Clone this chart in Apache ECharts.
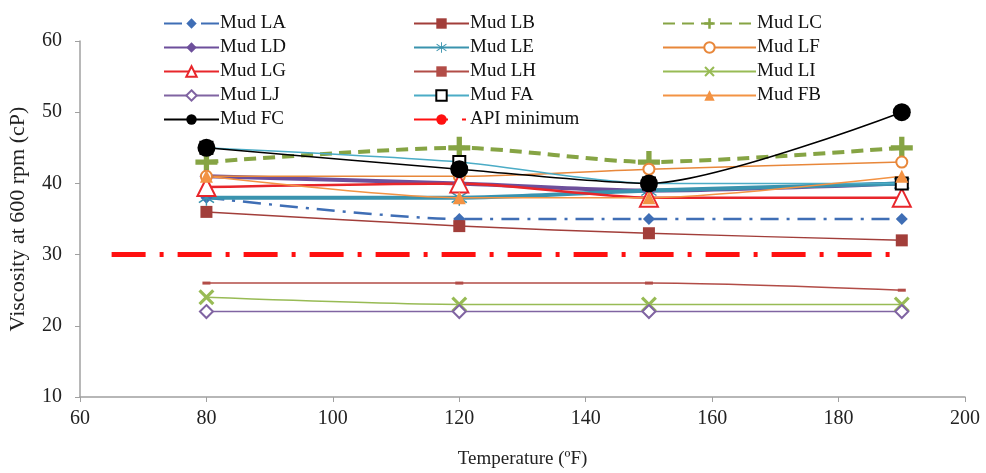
<!DOCTYPE html>
<html>
<head>
<meta charset="utf-8">
<script src="https://cdn.jsdelivr.net/npm/echarts@6/dist/echarts.min.js"></script>
<style>
  html, body { margin: 0; padding: 0; background: #fff; }
  #chart { width: 986px; height: 473px; }
</style>
</head>
<body>
<div id="chart"></div>
<script>
// temperatures (F) where the muds were measured
const temps = [80, 120, 150, 190]

const mudLA = [38, 35, 35, 35]
const mudLB = [36, 34, 33, 32]
const mudLC = [43, 45, 43, 45]
const mudLD = [41, 40, 39, 40]
const mudLE = [38, 38, 39, 40]
const mudLF = [41, 41, 42, 43]
const mudLG = [39.5, 40, 38, 38]
const mudLH = [26, 26, 26, 25]
const mudLI = [24, 23, 23, 23]
const mudLJ = [22, 22, 22, 22]
const mudFA = [45, 43, 40, 40]
const mudFB = [41, 38, 38, 41]
const mudFC = [45, 42, 40, 50]

// API minimum line
const apiX = [65, 190]
const apiY = [30, 30]

const xTicks = [60, 80, 100, 120, 140, 160, 180, 200]
const yTicks = [10, 20, 30, 40, 50, 60]

const font = 'Liberation Serif'

const plusPath = 'path://M3.8,0h2.4v3.8h3.8v2.4h-3.8v3.8h-2.4v-3.8h-3.8v-2.4h3.8z'
const crossPath = 'path://M0,1.4L1.4,0L5,3.6L8.6,0L10,1.4L6.4,5L10,8.6L8.6,10L5,6.4L1.4,10L0,8.6L3.6,5Z'
const starPath = 'path://M4.6,0h0.8v10h-0.8z M0.5,2.2L1,1.5L9.5,7.8L9,8.5Z M9,1.5L9.5,2.2L1,8.5L0.5,7.8Z'

function pairs(ys, xs) {
  xs = xs || temps
  return ys.map((y, i) => [xs[i], y])
}

function mud(name, data, color, opts) {
  opts = opts || {}
  return {
    name: name,
    type: 'line',
    data: pairs(data),
    smooth: 0.25,
    symbol: opts.symbol || 'circle',
    symbolSize: opts.size || 10,
    showAllSymbol: true,
    lineStyle: {
      color: color,
      width: opts.width || 1.5,
      type: opts.type || 'solid'
    },
    itemStyle: {
      color: opts.markColor || color,
      borderWidth: opts.border || 1.5
    },
    emphasis: { disabled: true }
  }
}

const series = [
  mud('Mud LA', mudLA, '#3f6eb5', { symbol: 'diamond', size: 12, width: 2.5, type: [18, 8, 3, 8] }),
  mud('Mud LB', mudLB, '#a23e3a', { symbol: 'rect', size: 12 }),
  mud('Mud LC', mudLC, '#86a444', { symbol: plusPath, size: 22, width: 4, type: [12, 7] }),
  mud('Mud LD', mudLD, '#6d4f9b', { symbol: 'diamond', size: 14, width: 4 }),
  mud('Mud LE', mudLE, '#3a93ae', { symbol: starPath, size: 16, width: 4 }),
  mud('Mud LF', mudLF, '#e8873a', { symbol: 'emptyCircle', size: 11 }),
  mud('Mud LG', mudLG, '#e8262b', { symbol: 'emptyTriangle', size: 18, border: 2, width: 2.5 }),
  mud('Mud LH', mudLH, '#b24c47', { symbol: 'rect', size: [8, 3] }),
  mud('Mud LI', mudLI, '#98bb55', { symbol: crossPath, size: 16 }),
  mud('Mud LJ', mudLJ, '#8064a2', { symbol: 'emptyDiamond', size: 13, border: 3 }),
  mud('Mud FA', mudFA, '#4bacc6', { symbol: 'emptyRect', size: 12, markColor: '#000', border: 3 }),
  mud('Mud FB', mudFB, '#f39344', { symbol: 'triangle', size: 13 }),
  mud('Mud FC', mudFC, '#000000', { symbol: 'circle', size: 18 }),
  {
    name: 'API minimum',
    type: 'line',
    data: pairs(apiY, apiX),
    symbol: 'none',
    lineStyle: { color: '#ff1010', width: 5, type: [34, 14, 4, 14] },
    itemStyle: { color: '#ff1010' },
    emphasis: { disabled: true },
    z: 1
  }
]

function legendCol(left, width, names) {
  return {
    orient: 'vertical',
    left: left,
    top: 9,
    itemGap: 5,
    itemWidth: width,
    itemHeight: 13,
    selectedMode: false,
    textStyle: { fontFamily: font, fontSize: 19, color: '#111', padding: [0, 0, 0, -4] },
    data: names
  }
}

const chart = echarts.init(document.getElementById('chart'))
chart.setOption({
  animation: false,
  backgroundColor: '#fff',
  grid: { left: 80, right: 21, top: 41, bottom: 76, containLabel: false, outerBoundsMode: 'none' },
  legend: [
    legendCol(158, 55, ['Mud LA', 'Mud LD', 'Mud LG', 'Mud LJ', 'Mud FC']),
    legendCol(408, 55, ['Mud LB', 'Mud LE', 'Mud LH', 'Mud FA', 'API minimum']),
    legendCol(657, 93, ['Mud LC', 'Mud LF', 'Mud LI', 'Mud FB'])
  ],
  xAxis: {
    type: 'value',
    min: xTicks[0],
    max: xTicks[xTicks.length - 1],
    interval: 20,
    name: 'Temperature (ºF)',
    nameLocation: 'middle',
    nameGap: 53,
    nameTextStyle: { fontFamily: font, fontSize: 19, color: '#222' },
    axisLine: { lineStyle: { color: '#a0a0a0', width: 1.5 } },
    axisTick: { show: true, length: 5, lineStyle: { color: '#a0a0a0' } },
    axisLabel: { fontFamily: font, fontSize: 20, color: '#222', margin: 12 },
    splitLine: { show: false }
  },
  yAxis: {
    type: 'value',
    min: yTicks[0],
    max: yTicks[yTicks.length - 1],
    interval: 10,
    name: 'Viscosity at 600 rpm (cP)',
    nameLocation: 'middle',
    nameGap: 51,
    nameTextStyle: { fontFamily: font, fontSize: 22, color: '#222' },
    axisLine: { show: true, lineStyle: { color: '#a0a0a0', width: 1.5 } },
    axisTick: { show: true, length: 5, lineStyle: { color: '#a0a0a0' } },
    axisLabel: { fontFamily: font, fontSize: 20, color: '#222', margin: 18 },
    splitLine: { show: false }
  },
  series: series
})
</script>
</body>
</html>
